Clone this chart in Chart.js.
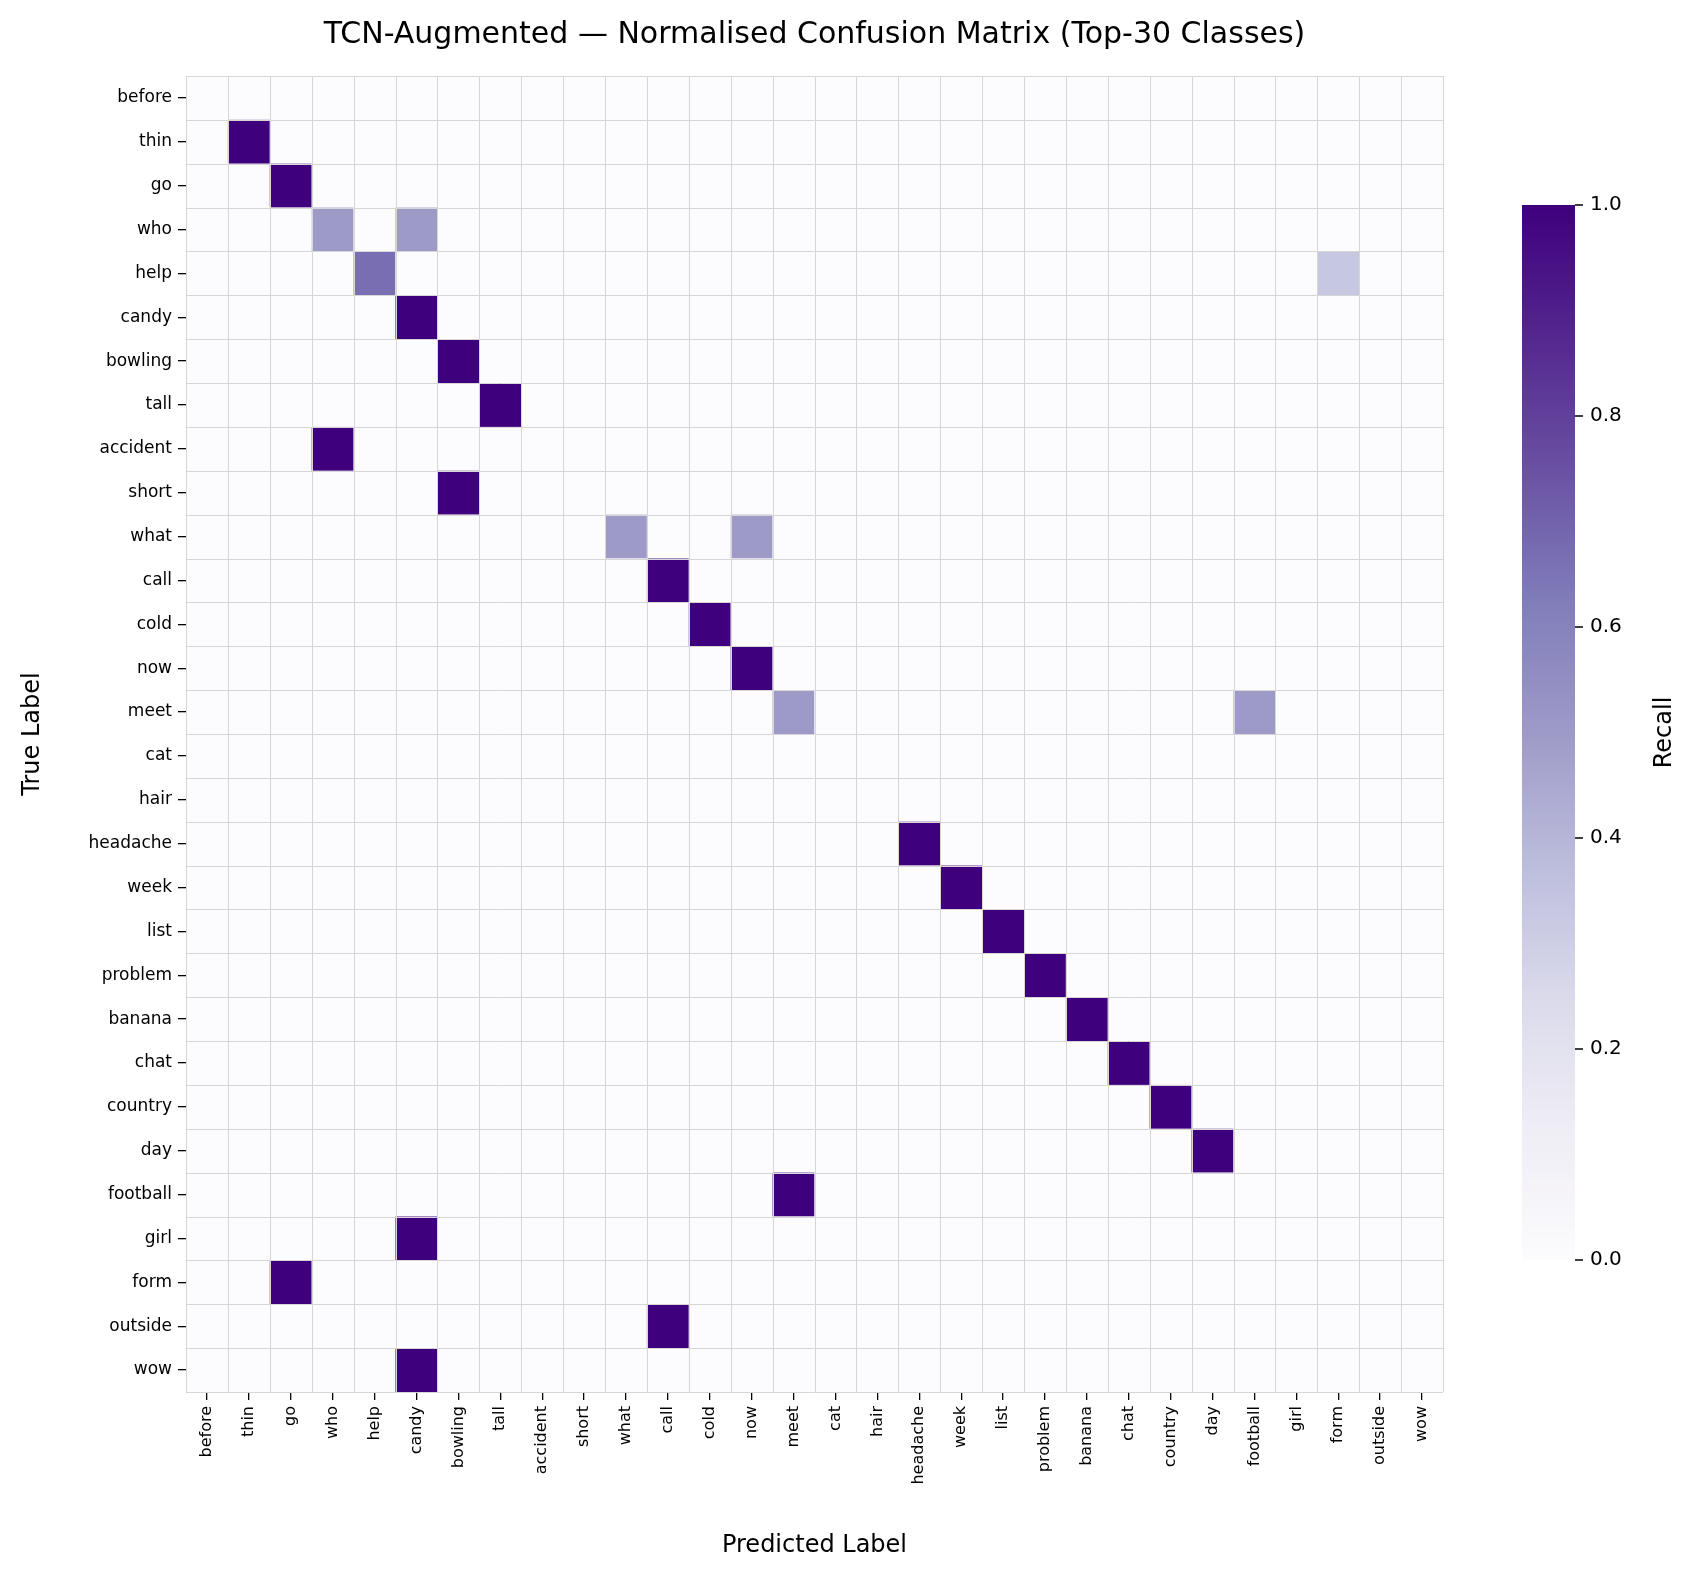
<!DOCTYPE html>
<html><head><meta charset="utf-8">
<script src="https://cdn.jsdelivr.net/npm/chart.js@4"></script>
<style>html,body{margin:0;padding:0;background:#fff}#w{width:1694px;height:1578px}</style>
</head><body><div id="w"><canvas id="c"></canvas></div>
<script>
const classes = ["before","thin","go","who","help","candy","bowling","tall","accident","short","what","call","cold","now","meet","cat","hair","headache","week","list","problem","banana","chat","country","day","football","girl","form","outside","wow"];
// non-zero cells: [trueIndex, predIndex, value]
const cells = [
 [1,1,1],[2,2,1],[3,3,0.5],[3,5,0.5],[4,4,0.667],[4,27,0.333],[5,5,1],[6,6,1],[7,7,1],
 [8,3,1],[9,6,1],[10,10,0.5],[10,13,0.5],[11,11,1],[12,12,1],[13,13,1],[14,14,0.5],[14,25,0.5],
 [17,17,1],[18,18,1],[19,19,1],[20,20,1],[21,21,1],[22,22,1],[23,23,1],[24,24,1],
 [25,14,1],[26,5,1],[27,2,1],[28,11,1],[29,5,1]
];
const cbarTicks = [0,0.2,0.4,0.6,0.8,1.0];

const stops=[[0,[252,251,253]],[0.125,[239,237,245]],[0.25,[218,218,235]],[0.375,[188,189,220]],[0.5,[158,154,200]],[0.625,[128,125,186]],[0.75,[106,81,163]],[0.875,[84,39,143]],[1,[63,0,125]]];
function purples(v){for(let i=1;i<stops.length;i++){if(v<=stops[i][0]){const a=stops[i-1],b=stops[i],t=(v-a[0])/(b[0]-a[0]);return 'rgb('+a[1].map((c,k)=>Math.round(c+(b[1][k]-c)*t)).join(',')+')';}}return 'rgb(63,0,125)';}
const n=classes.length;
const grid=[];for(let i=0;i<n;i++){grid.push(new Array(n).fill(0));}
cells.forEach(([r,c,v])=>grid[r][c]=v);

const heat={id:'heat',beforeDatasetsDraw(ch){
 const ctx=ch.ctx,xs=ch.scales.x,ys=ch.scales.y;ctx.save();
 for(let r=0;r<n;r++)for(let c=0;c<n;c++){
  const x0=xs.getPixelForValue(c-0.5),x1=xs.getPixelForValue(c+0.5),y0=ys.getPixelForValue(r-0.5),y1=ys.getPixelForValue(r+0.5);
  ctx.fillStyle=purples(grid[r][c]);ctx.fillRect(x0,y0,x1-x0,y1-y0);}
 ctx.strokeStyle='#d6d6d6';ctx.lineWidth=1;
 for(let k=0;k<=n;k++){const x=Math.round(xs.getPixelForValue(k-0.5))+0.5;ctx.beginPath();ctx.moveTo(x,ch.chartArea.top);ctx.lineTo(x,ch.chartArea.bottom);ctx.stroke();
  const y=Math.round(ys.getPixelForValue(k-0.5))+0.5;ctx.beginPath();ctx.moveTo(ch.chartArea.left,y);ctx.lineTo(ch.chartArea.right,y);ctx.stroke();}
 ctx.fillStyle='#000';ctx.font='30px "DejaVu Sans"';ctx.textAlign='center';ctx.textBaseline='middle';
 ctx.fillText('TCN-Augmented \u2014 Normalised Confusion Matrix (Top-30 Classes)',(ch.chartArea.left+ch.chartArea.right)/2,35);
 const cx0=1522,cx1=1575,cy0=205,cy1=1260;
 for(let y=cy0;y<cy1;y++){ctx.fillStyle=purples((cy1-y)/(cy1-cy0));ctx.fillRect(cx0,y,cx1-cx0,1);}
 ctx.strokeStyle='#000';ctx.lineWidth=1.5;ctx.font='20px "DejaVu Sans"';ctx.textAlign='left';
 cbarTicks.forEach(t=>{const y=cy1-t*(cy1-cy0);ctx.beginPath();ctx.moveTo(cx1,y);ctx.lineTo(cx1+8,y);ctx.stroke();ctx.fillStyle='#000';ctx.fillText(t.toFixed(1),cx1+15,y);});
 ctx.save();ctx.translate(1665,(cy0+cy1)/2);ctx.rotate(-Math.PI/2);ctx.font='24px "DejaVu Sans"';ctx.textAlign='center';ctx.fillText('Recall',0,0);ctx.restore();
 ctx.restore();}};

const tickCb=v=>classes[Math.round(v)]??'';
const intTicks=s=>{s.ticks=classes.map((_,i)=>({value:i}));};
new Chart(document.getElementById('c'),{type:'scatter',
 data:{datasets:[{data:[],pointRadius:0}]},
 options:{responsive:true,maintainAspectRatio:false,animation:false,
  layout:{padding:{top:76,right:251,left:18,bottom:18}},
  plugins:{legend:{display:false},tooltip:{enabled:false}},
  scales:{
   x:{type:'linear',min:-0.5,max:n-0.5,afterBuildTicks:intTicks,afterFit:s=>{s.height=168;},
    grid:{drawOnChartArea:false,drawTicks:true,tickLength:8,color:'#000',lineWidth:1.3},border:{display:false},
    ticks:{callback:tickCb,maxRotation:90,minRotation:90,autoSkip:false,color:'#000',font:{size:16,family:'DejaVu Sans'},padding:6},
    title:{display:true,text:'Predicted Label',color:'#000',font:{size:24,family:'DejaVu Sans'},padding:{top:0,bottom:0}}},
   y:{type:'linear',reverse:true,min:-0.5,max:n-0.5,afterBuildTicks:intTicks,afterFit:s=>{s.width=168;},
    grid:{drawOnChartArea:false,drawTicks:true,tickLength:8,color:'#000',lineWidth:1.3},border:{display:false},
    ticks:{callback:tickCb,autoSkip:false,color:'#000',font:{size:17,family:'DejaVu Sans'},padding:6},
    title:{display:true,text:'True Label',color:'#000',font:{size:24,family:'DejaVu Sans'},padding:{top:0,bottom:0}}}
  }},plugins:[heat]});
</script></body></html>
